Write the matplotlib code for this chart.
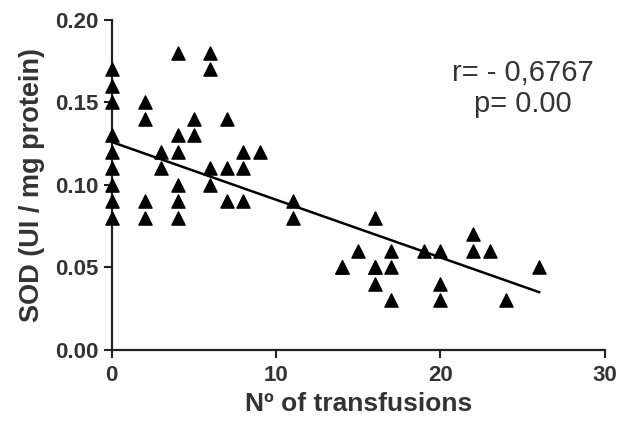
import numpy as np
import matplotlib.pyplot as plt

plt.rcParams['font.family'] = ['Liberation Sans', 'DejaVu Sans']

# Nº of transfusions vs SOD (UI / mg protein)
transfusions = [0, 0, 0, 0, 0, 0, 0, 0, 0,
                2, 2, 2, 2, 3, 3, 4, 4, 4, 4, 4, 4, 5, 5,
                6, 6, 6, 6, 7, 7, 7, 8, 8, 8, 9, 11, 11,
                14, 14, 15, 16, 16, 16, 16, 17, 17, 17, 19,
                20, 20, 20, 22, 22, 23, 24, 26]
sod = [0.17, 0.16, 0.15, 0.13, 0.12, 0.11, 0.10, 0.09, 0.08,
       0.15, 0.14, 0.09, 0.08, 0.12, 0.11, 0.18, 0.13, 0.12, 0.10, 0.09, 0.08, 0.14, 0.13,
       0.18, 0.17, 0.11, 0.10, 0.14, 0.11, 0.09, 0.12, 0.11, 0.09, 0.12, 0.09, 0.08,
       0.05, 0.05, 0.06, 0.08, 0.05, 0.04, 0.05, 0.06, 0.05, 0.03, 0.06,
       0.06, 0.04, 0.03, 0.07, 0.06, 0.06, 0.03, 0.05]
# fitted line end points
fit_x = [0, 26]
fit_y = [0.126, 0.035]

fig = plt.figure(figsize=(6.21, 4.32), dpi=100)
ax = fig.add_axes([0.180, 0.190, 0.794, 0.764])

ax.scatter(transfusions, sod, marker='^', s=90, color='black', zorder=3, clip_on=False)
ax.plot(fit_x, fit_y, color='black', lw=1.8, zorder=2)

ax.set_xlim(0, 30)
ax.set_ylim(0, 0.20)
ax.set_xticks([0, 10, 20, 30])
ax.set_yticks([0, 0.05, 0.10, 0.15, 0.20])
ax.set_yticklabels(['0.00', '0.05', '0.10', '0.15', '0.20'], fontweight='bold')
ax.set_xticklabels(['0', '10', '20', '30'], fontweight='bold')
ax.tick_params(labelsize=16, width=1.5, length=6, color='#222222', labelcolor='#333333')
ax.tick_params(axis='x', pad=5)

for side in ['top', 'right']:
    ax.spines[side].set_visible(False)
for side in ['left', 'bottom']:
    ax.spines[side].set_linewidth(1.6)
    ax.spines[side].set_color('#222222')

ax.set_xlabel('Nº of transfusions', fontsize=19, fontweight='bold', color='#333333', labelpad=4)
ax.set_ylabel('SOD (UI / mg protein)', fontsize=19.5, fontweight='bold', color='#333333', labelpad=7)

ax.text(25.0, 0.168, 'r= - 0,6767', fontsize=21, ha='center', va='center', color='#333333')
ax.text(25.0, 0.149, 'p= 0.00', fontsize=21, ha='center', va='center', color='#333333')

fig.savefig('out.png', dpi=100)
